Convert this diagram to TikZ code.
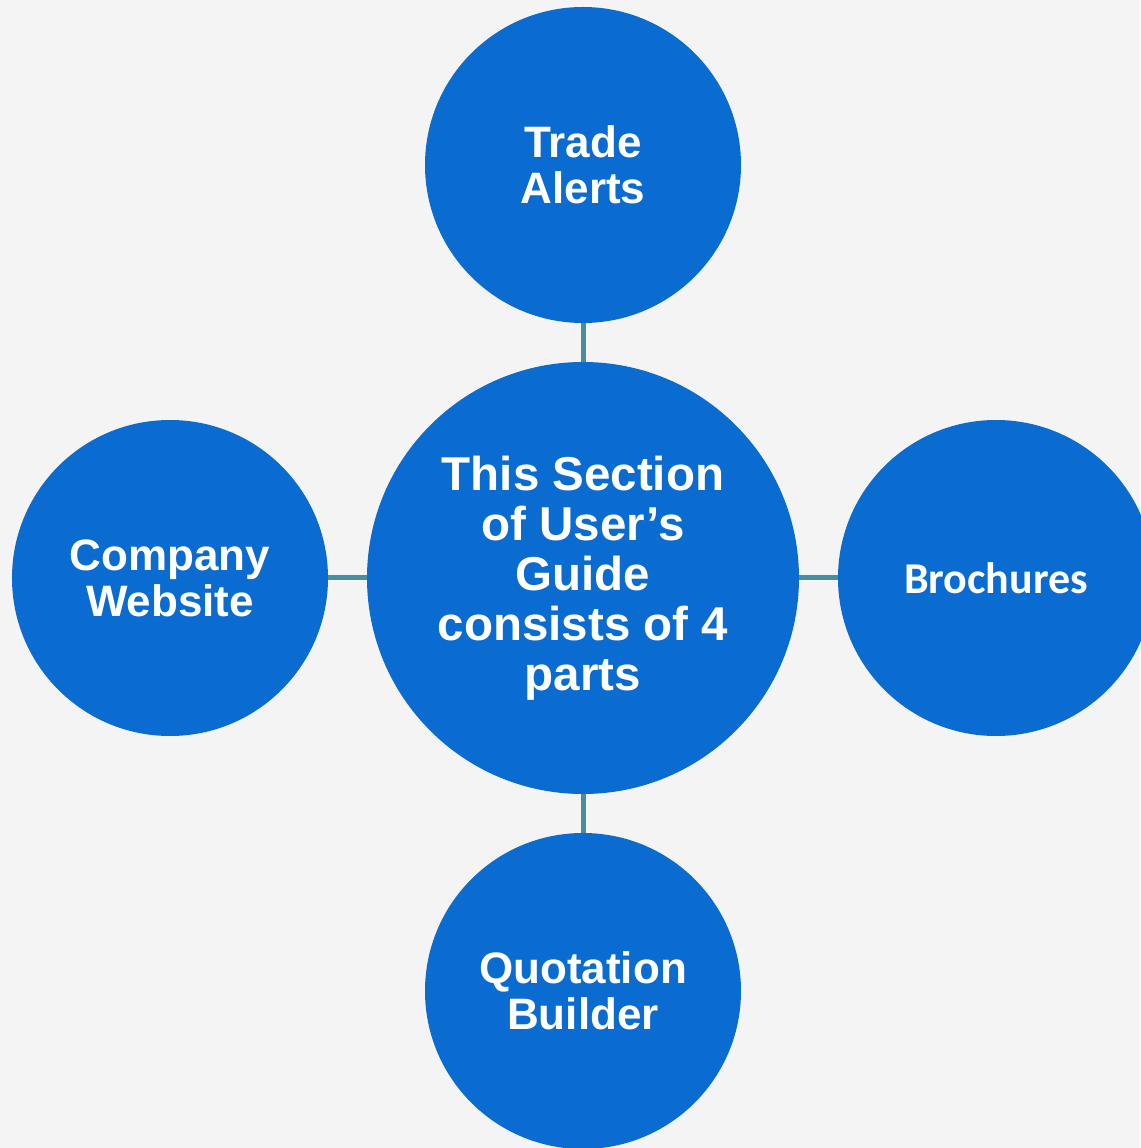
\documentclass[tikz,border=0pt]{standalone}
\usepackage{fontspec}
\setmainfont{Liberation Sans}
\newfontfamily\brofont{Carlito}
\usetikzlibrary{positioning}
\definecolor{bgcol}{HTML}{F4F4F4}
\definecolor{discblue}{HTML}{0A6BD1}
\definecolor{linkteal}{HTML}{4A8D9D}

\begin{document}
\begin{tikzpicture}
\tikzstyle{part}=[circle, node distance = 413pt,
inner sep=0pt,outer sep=0pt,
fill=discblue,text=white,align=center,minimum size=316pt,
font=\bfseries\fontsize{44}{46}\selectfont]
\tikzstyle{hub}=[part,minimum size=432pt,
font=\bfseries\fontsize{47.5}{50}\selectfont]
\tikzstyle{link}=[draw=linkteal,line width=5pt]
% page and background
\fill[bgcol] (-583pt,-570pt) rectangle (557pt,578pt);
\useasboundingbox (-583pt,-570pt) rectangle (557pt,578pt);
\node[hub] at (0,0) (centre) {This Section\\of User’s\\Guide\\consists of 4\\parts};
\node[part,above of =centre](trade) {Trade\\Alerts};
\node[part,left of =centre](web) {Company\\Website};
\node[part,right of =centre](bro) {\brofont\bfseries Brochures};
\node[part,below of =centre](quote) {Quotation\\Builder};

\path[link] (centre) edge (trade) ;
\path[link] (centre) edge (web) ;
\path[link] (centre) edge (bro) ;
\path[link] (centre) edge (quote) ;

\end{tikzpicture}
\end{document}
